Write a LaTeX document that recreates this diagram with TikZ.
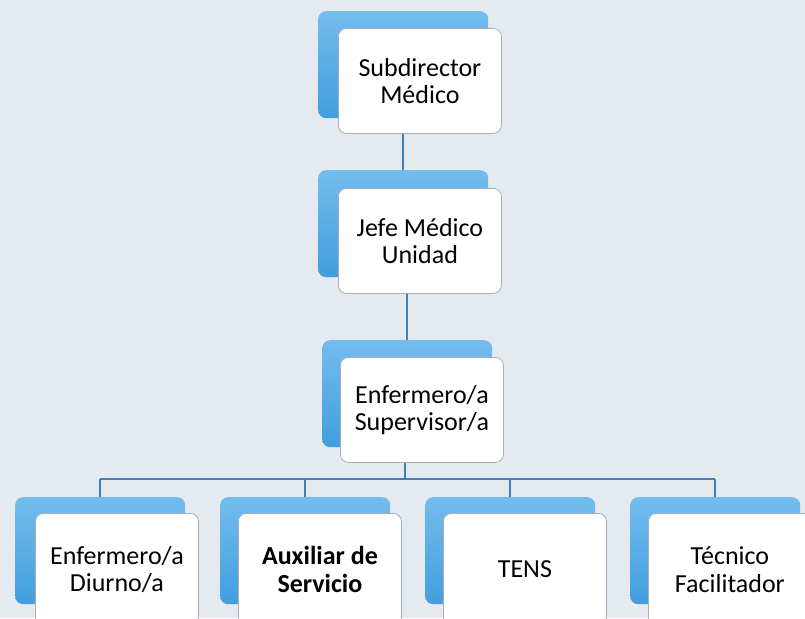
\documentclass[tikz,border=0pt]{standalone}
\usepackage{fontspec}
\setmainfont{Carlito}
\definecolor{bgcol}{RGB}{228,234,240}
\definecolor{blueTop}{RGB}{115,188,238}
\definecolor{blueBot}{RGB}{66,158,222}
\definecolor{cardedge}{RGB}{165,175,186}
\definecolor{linkblue}{RGB}{66,126,184}
\begin{document}
\begin{tikzpicture}[x=1pt,y=-1pt,
  back/.style={top color=blueTop, bottom color=blueBot, rounded corners=8pt,
    minimum width=170pt, minimum height=107pt, inner sep=0pt, anchor=north west},
  card/.style={fill=white, draw=cardedge, line width=0.8pt, rounded corners=8pt,
    minimum width=163pt, minimum height=105pt, inner sep=0pt, anchor=north west,
    align=center, text=black, font=\fontsize{26}{27.5}\selectfont},
  link/.style={draw=linkblue, line width=1.8pt}]
\useasboundingbox (0,0) rectangle (805,618);
\clip (0,0) rectangle (805,618);
\fill[bgcol] (0,0) rectangle (805,618);

% level 1
\node[back] (b1) at (318,11) {};
\node[card] (w1) at (338,28) {Subdirector\\Médico};
% level 2
\node[back] (b2) at (318,170) {};
\node[card] (w2) at (338,188) {Jefe Médico\\Unidad};
% level 3
\node[back] (b3) at (322,340) {};
\node[card] (w3) at (340,357) {Enfermero/a\\Supervisor/a};
% bottom row
\node[back] (b4) at (15,497) {};
\node[card, minimum height=112pt] (w4) at (35,513) {Enfermero/a\\Diurno/a};
\node[back] (b5) at (220,497) {};
\node[card, minimum height=112pt] (w5) at (238,513) {\textbf{Auxiliar de}\\\textbf{Servicio}};
\node[back] (b6) at (425,497) {};
\node[card, minimum height=112pt] (w6) at (443,513) {TENS};
\node[back] (b7) at (630,497) {};
\node[card, minimum height=112pt] (w7) at (648,513) {Técnico\\Facilitador};

\coordinate (bus) at (405,479);

\draw[link] (w1.south -| b2.north) -- (b2.north);
\draw[link] (w2.south -| b3.north) -- (b3.north);
\draw[link] (w3.south -| bus) -- (bus);
\draw[link] (bus -| b4.north) -- (bus -| b7.north);
\draw[link] (bus -| b4.north) -- (b4.north);
\draw[link] (bus -| b5.north) -- (b5.north);
\draw[link] (bus -| b6.north) -- (b6.north);
\draw[link] (bus -| b7.north) -- (b7.north);
\end{tikzpicture}
\end{document}
